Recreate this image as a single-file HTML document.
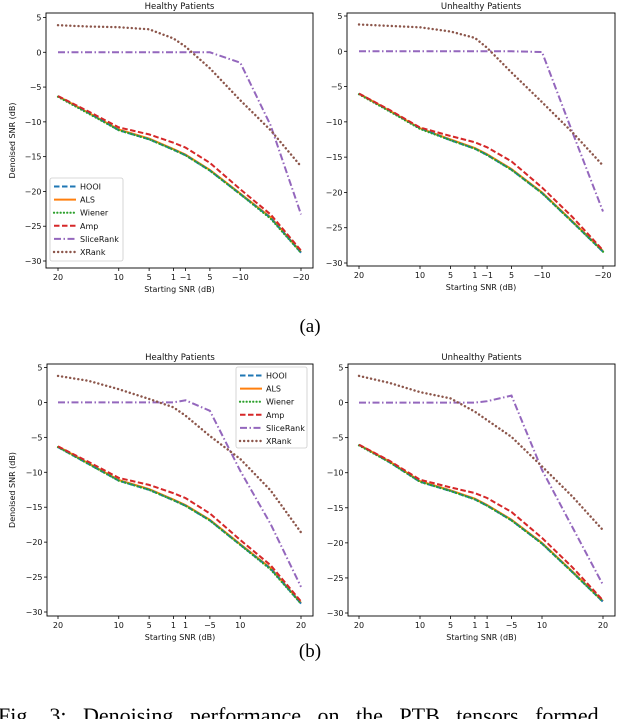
<!DOCTYPE html>
<html><head><meta charset="utf-8">
<style>
html,body{margin:0;padding:0;background:#fff;}
svg{display:block;}
text{font-family:"DejaVu Sans","Liberation Sans",sans-serif;}
</style></head>
<body>
<svg id="fig" width="640" height="719" viewBox="0 0 640 719" xmlns="http://www.w3.org/2000/svg">
<text x="310" y="332" text-anchor="middle" font-size="19" style="font-family:'Liberation Serif',serif">(a)</text>
<text x="310" y="657" text-anchor="middle" font-size="19" style="font-family:'Liberation Serif',serif">(b)</text>
<text x="-2" y="723" font-size="22" word-spacing="11" style="font-family:'Liberation Serif',serif">Fig. 3: Denoising performance on the PTB tensors formed</text>
</svg>
<script>
const xValues = [20, 15, 10, 5, 1, -1, -5, -10, -15, -20];
const yTicks = [5, 0, -5, -10, -15, -20, -25, -30];
const xTicksTop = [20, 10, 5, 1, -1, -5, -10, -20];
const xTickLabelsTop = ["20", "10", "5", "1", "\u22121", "5", "\u221210", "\u221220"];
const xTickLabelsBottom = ["20", "10", "5", "1", "1", "\u22125", "10", "20"];
const seriesNames = ["HOOI", "ALS", "Wiener", "Amp", "SliceRank", "XRank"];

// Panel (a) healthy
const aHealthyHOOI = [-6.3, -8.7, -11.2, -12.5, -14.0, -14.8, -17.0, -20.4, -23.8, -28.8];
const aHealthyALS = [-6.3, -8.7, -11.1, -12.4, -13.9, -14.7, -16.9, -20.3, -23.7, -28.7];
const aHealthyWiener = [-6.4, -8.8, -11.2, -12.5, -14.0, -14.8, -17.0, -20.4, -23.9, -28.8];
const aHealthyAmp = [-6.3, -8.5, -10.8, -11.8, -13.0, -13.7, -15.9, -19.7, -23.3, -28.5];
const aHealthySlice = [0, 0, 0, 0, 0, 0, 0, -1.5, -10.5, -23.3];
const aHealthyXRank = [3.9, 3.7, 3.6, 3.3, 2.0, 0.8, -2.3, -6.9, -11.2, -16.4];
// Panel (a) unhealthy
const aUnhealthyHOOI = [-6.0, -8.4, -10.9, -12.6, -13.8, -14.7, -16.8, -20.1, -24.2, -28.4];
const aUnhealthyALS = [-6.0, -8.4, -10.9, -12.5, -13.7, -14.6, -16.7, -20.0, -24.1, -28.3];
const aUnhealthyWiener = [-6.1, -8.5, -11.0, -12.6, -13.8, -14.7, -16.8, -20.1, -24.2, -28.4];
const aUnhealthyAmp = [-6.0, -8.3, -10.8, -12.0, -12.9, -13.6, -15.6, -19.3, -23.5, -28.2];
const aUnhealthySlice = [0, 0, 0, 0, 0, 0, 0, -0.1, -11.5, -22.7];
const aUnhealthyXRank = [3.8, 3.6, 3.4, 2.8, 1.9, 0.5, -3.0, -7.2, -11.5, -16.2];
// Panel (b) healthy
const bHealthyHOOI = [-6.4, -8.8, -11.2, -12.5, -14.0, -14.8, -16.9, -20.4, -23.8, -28.8];
const bHealthyALS = [-6.3, -8.7, -11.1, -12.4, -13.9, -14.7, -16.8, -20.3, -23.7, -28.7];
const bHealthyWiener = [-6.4, -8.8, -11.2, -12.5, -14.0, -14.8, -16.9, -20.4, -23.9, -28.8];
const bHealthyAmp = [-6.3, -8.5, -10.8, -11.8, -13.0, -13.7, -15.9, -19.7, -23.3, -28.5];
const bHealthySlice = [0, 0, 0, 0, 0, 0.3, -1.2, -9.8, -17.4, -26.4];
const bHealthyXRank = [3.8, 3.1, 1.9, 0.5, -0.7, -1.9, -4.8, -8.1, -12.6, -18.6];
// Panel (b) unhealthy
const bUnhealthyHOOI = [-6.0, -8.5, -11.3, -12.6, -13.8, -14.7, -16.8, -20.1, -24.2, -28.4];
const bUnhealthyALS = [-6.0, -8.4, -11.2, -12.5, -13.7, -14.6, -16.7, -20.0, -24.1, -28.3];
const bUnhealthyWiener = [-6.1, -8.5, -11.3, -12.6, -13.8, -14.7, -16.8, -20.1, -24.2, -28.4];
const bUnhealthyAmp = [-6.0, -8.3, -11.0, -12.1, -12.9, -13.6, -15.6, -19.3, -23.5, -28.2];
const bUnhealthySlice = [0, 0, 0, 0, 0, 0.2, 1.0, -9.6, -17.8, -26.0];
const bUnhealthyXRank = [3.8, 2.8, 1.5, 0.6, -1.3, -2.5, -4.9, -9.1, -13.4, -18.2];

const NS = "http://www.w3.org/2000/svg";
const svg = document.getElementById("fig");
const colors = ["#1f77b4", "#ff7f0e", "#2ca02c", "#d62728", "#9467bd", "#8c564b"];
const dashes = ["5.5,2.5", "", "0.1,3.2", "5.5,2.5", "7,2.5,1.5,2.5", "0.1,4"];
const caps = ["butt", "butt", "round", "butt", "butt", "round"];
const widths = [2, 2, 2.2, 2, 2, 2.4];
const drawOrder = [1, 0, 2, 3, 4, 5];

function mk(tag, attrs, parent) {
  const e = document.createElementNS(NS, tag);
  for (const k in attrs) e.setAttribute(k, attrs[k]);
  (parent || svg).appendChild(e);
  return e;
}

function panel(cfg) {
  const g = mk("g", {});
  
  
  const xs = v => cfg.x20 + (20 - v) * (cfg.xm20 - cfg.x20) / 40;
  const ys = v => cfg.y5 + (5 - v) * (cfg.ym30 - cfg.y5) / 35;
  const t = mk("text", {x: (cfg.l + cfg.r) / 2, y: cfg.t - 4, "text-anchor": "middle", "font-size": 8.5, fill: "#111"}, g);
  t.textContent = cfg.title;
  
  
  yTicks.forEach(v => {
    const y = ys(v);
    mk("line", {x1: cfg.l - 3, x2: cfg.l, y1: y, y2: y, stroke: "#000", "stroke-width": 0.8}, g);
    const tx = mk("text", {x: cfg.l - 4.5, y: y + 3, "text-anchor": "end", "font-size": 8, fill: "#111"}, g);
    tx.textContent = v < 0 ? "\u2212" + Math.abs(v) : String(v);
    
    
  });
  xTicksTop.forEach((v, i) => {
    const x = xs(v);
    mk("line", {x1: x, x2: x, y1: cfg.b, y2: cfg.b + 3, stroke: "#000", "stroke-width": 0.8}, g);
    const tx = mk("text", {x: x, y: cfg.b + 12, "text-anchor": "middle", "font-size": 8, fill: "#111"}, g);
    tx.textContent = cfg.labels[i];
    
    
  });
  const xl = mk("text", {x: (cfg.l + cfg.r) / 2, y: cfg.b + 24, "text-anchor": "middle", "font-size": 8, fill: "#111"}, g);
  xl.textContent = "Starting SNR (dB)";
  
  
  if (cfg.ylabel) {
    const cy = (cfg.t + cfg.b) / 2;
    const yl = mk("text", {x: 15, y: cy, "text-anchor": "middle", "font-size": 8, fill: "#111", transform: "rotate(-90 15 " + cy + ")"}, g);
    yl.textContent = "Denoised SNR (dB)";
    
    
  }
  drawOrder.forEach(si => {
    const vals = cfg.series[si];
    const d = vals.map((v, i) => (i ? "L" : "M") + xs(xValues[i]).toFixed(1) + "," + ys(v).toFixed(1)).join(" ");
    const p = mk("path", {d: d, fill: "none", stroke: colors[si], "stroke-width": widths[si], "stroke-dasharray": dashes[si], "stroke-linecap": caps[si]}, g);
    
    
  });
  const fr = mk("rect", {x: cfg.l, y: cfg.t, width: cfg.r - cfg.l, height: cfg.b - cfg.t, fill: "none", stroke: "#000", "stroke-width": 0.9}, g);
  
  
  if (cfg.legend) {
    const L = cfg.legend;
    const lg = mk("g", {}, g);
    
    
    mk("rect", {x: L.x, y: L.y, width: L.w, height: L.h, rx: 2, fill: "#fff", "fill-opacity": 0.85, stroke: "#ccc", "stroke-width": 0.8}, lg);
    seriesNames.forEach((n, i) => {
      const yy = L.y + 8.5 + i * 13.1;
      const ln = mk("line", {x1: L.x + 4, x2: L.x + 26, y1: yy, y2: yy, stroke: colors[i], "stroke-width": widths[i], "stroke-dasharray": dashes[i], "stroke-linecap": caps[i]}, lg);
      
      
      const tx = mk("text", {x: L.x + 30, y: yy + 3, "font-size": 8, fill: "#111"}, lg);
      tx.textContent = n;
      
      
    });
  }
}

panel({name: "panel-a-healthy", title: "Healthy Patients", l: 46, r: 313, t: 13, b: 268, x20: 58, xm20: 301, y5: 17.5, ym30: 261, labels: xTickLabelsTop, ylabel: true,
  series: [aHealthyHOOI, aHealthyALS, aHealthyWiener, aHealthyAmp, aHealthySlice, aHealthyXRank],
  legend: {x: 50, y: 178, w: 73, h: 83}});
panel({name: "panel-a-unhealthy", title: "Unhealthy Patients", l: 347, r: 615, t: 13, b: 266, x20: 359, xm20: 603, y5: 16, ym30: 263, labels: xTickLabelsTop, ylabel: false,
  series: [aUnhealthyHOOI, aUnhealthyALS, aUnhealthyWiener, aUnhealthyAmp, aUnhealthySlice, aUnhealthyXRank]});
panel({name: "panel-b-healthy", title: "Healthy Patients", l: 47, r: 313, t: 364, b: 616, x20: 58, xm20: 301, y5: 367.5, ym30: 612, labels: xTickLabelsBottom, ylabel: true,
  series: [bHealthyHOOI, bHealthyALS, bHealthyWiener, bHealthyAmp, bHealthySlice, bHealthyXRank],
  legend: {x: 236, y: 367, w: 71, h: 81}});
panel({name: "panel-b-unhealthy", title: "Unhealthy Patients", l: 348, r: 615, t: 364, b: 616, x20: 359, xm20: 603, y5: 367.5, ym30: 613, labels: xTickLabelsBottom, ylabel: false,
  series: [bUnhealthyHOOI, bUnhealthyALS, bUnhealthyWiener, bUnhealthyAmp, bUnhealthySlice, bUnhealthyXRank]});
</script>
</body></html>
